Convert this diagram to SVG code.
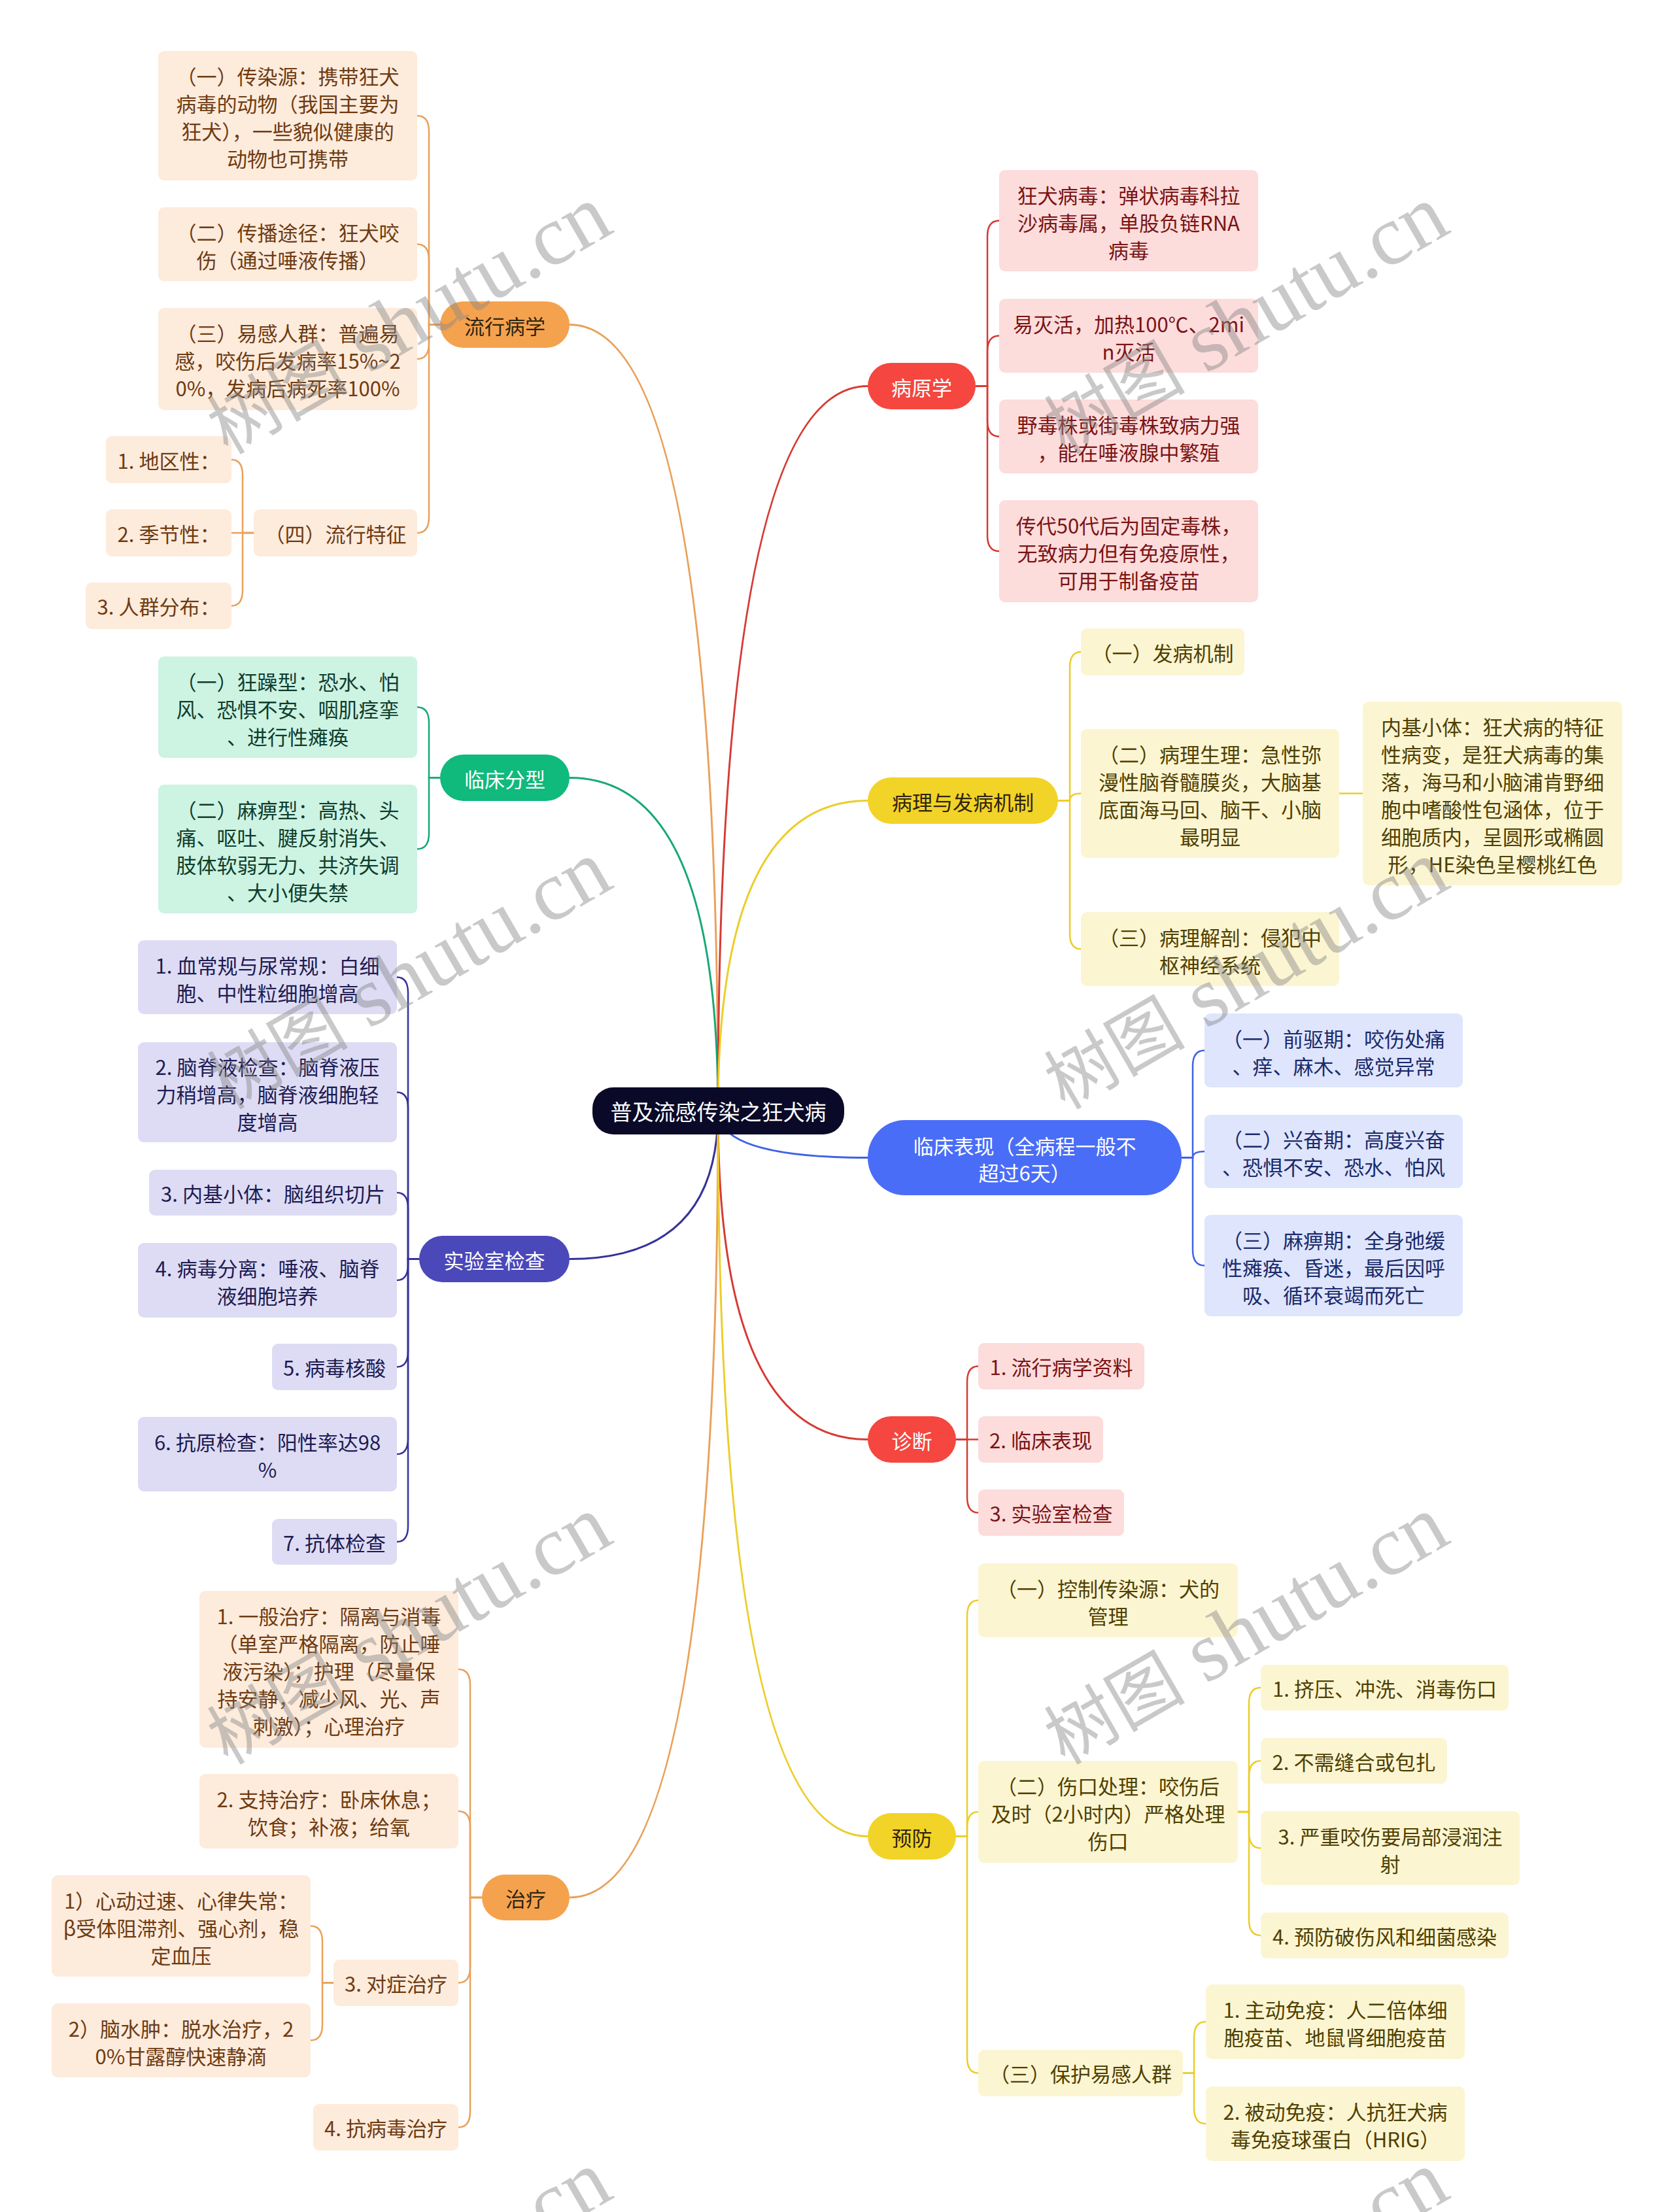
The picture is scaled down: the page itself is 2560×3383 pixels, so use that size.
<svg xmlns="http://www.w3.org/2000/svg" width="2560" height="3383" viewBox="0 0 2560 3383">
<style>
text{font-family:"Noto Sans CJK SC","Liberation Sans",sans-serif;font-size:31px;text-anchor:middle;dominant-baseline:central}
tspan{dominant-baseline:central}
.rt{font-size:33px;fill:#fff}
.w{fill:#fff}
.d{fill:#2e2410}
.ob{fill:#fdebdc}.ot{fill:#6e3b12}
.gb{fill:#cdf3e3}.gt{fill:#0f3d2c}
.pb{fill:#dddcf4}.pt{fill:#1e1b52}
.rb{fill:#fddcdc}.rtx{fill:#7a1414}
.yb{fill:#fcf5d2}.yt{fill:#4f4000}
.bb{fill:#dee5fc}.bt{fill:#1b2a6b}
.op{fill:#f5a24e}.gp{fill:#10b97c}.pp{fill:#4b48b9}.rp{fill:#f5463f}.yp{fill:#f2d327}.bp{fill:#4a6df7}
#connectors path{fill:none;stroke-width:2.5}
#connectors .m{stroke-width:3}
.ol{stroke:#e9a15a}.gl{stroke:#16a877}.pl{stroke:#353399}.rl{stroke:#d63a34}.yl{stroke:#eccd2a}.bl{stroke:#3f62e6}
.wm{font-family:"Liberation Serif","Noto Sans CJK SC",serif;fill:#888;opacity:0.45;dominant-baseline:alphabetic}
.wm tspan{dominant-baseline:alphabetic}
</style>
<rect width="2560" height="3383" fill="#fff"/>
<g id="connectors">
<path class="m ol" d="M1098 1699 Q1098 496.5 871 496.5"/>
<path class="m gl" d="M1098 1699 Q1098 1189.5 871 1189.5"/>
<path class="m pl" d="M1098 1699 Q1098 1925.5 871 1925.5"/>
<path class="m ol" d="M1098 1699 Q1098 2902 871 2902"/>
<path class="m rl" d="M1098 1699 Q1098 590.5 1327 590.5"/>
<path class="m yl" d="M1098 1699 Q1098 1224.5 1327 1224.5"/>
<path class="m bl" d="M1098 1699 Q1098 1770.5 1327 1770.5"/>
<path class="m rl" d="M1098 1699 Q1098 2201.5 1327 2201.5"/>
<path class="m yl" d="M1098 1699 Q1098 2808.5 1327 2808.5"/>
<path class="ol" d="M673 496.5 H656 V201 Q656 177 638 177"/>
<path class="ol" d="M673 496.5 H656 V397.5 Q656 373.5 638 373.5"/>
<path class="ol" d="M673 496.5 H656 V525 Q656 549 638 549"/>
<path class="ol" d="M673 496.5 H656 V791 Q656 815 638 815"/>
<path class="ol" d="M388 815 H371 V727 Q371 703 354 703"/>
<path class="ol" d="M388 815 H354"/>
<path class="ol" d="M388 815 H371 V902.5 Q371 926.5 354 926.5"/>
<path class="gl" d="M673 1189.5 H656 V1105.5 Q656 1081.5 638 1081.5"/>
<path class="gl" d="M673 1189.5 H656 V1274.5 Q656 1298.5 638 1298.5"/>
<path class="pl" d="M641 1925.5 H624 V1518.5 Q624 1494.5 607 1494.5"/>
<path class="pl" d="M641 1925.5 H624 V1694.5 Q624 1670.5 607 1670.5"/>
<path class="pl" d="M641 1925.5 H624 V1848 Q624 1824 607 1824"/>
<path class="pl" d="M641 1925.5 H624 V1934 Q624 1958 607 1958"/>
<path class="pl" d="M641 1925.5 H624 V2066.5 Q624 2090.5 607 2090.5"/>
<path class="pl" d="M641 1925.5 H624 V2200 Q624 2224 607 2224"/>
<path class="pl" d="M641 1925.5 H624 V2334 Q624 2358 607 2358"/>
<path class="ol" d="M737 2902 H719 V2577 Q719 2553 701 2553"/>
<path class="ol" d="M737 2902 H719 V2794 Q719 2770 701 2770"/>
<path class="ol" d="M737 2902 H719 V3008.5 Q719 3032.5 701 3032.5"/>
<path class="ol" d="M737 2902 H719 V3229.5 Q719 3253.5 701 3253.5"/>
<path class="ol" d="M510 3032.5 H493 V2969.5 Q493 2945.5 475 2945.5"/>
<path class="ol" d="M510 3032.5 H493 V3096.5 Q493 3120.5 475 3120.5"/>
<path class="rl" d="M1492 590.5 H1510 V361.5 Q1510 337.5 1528 337.5"/>
<path class="rl" d="M1492 590.5 H1510 V537.5 Q1510 513.5 1528 513.5"/>
<path class="rl" d="M1492 590.5 H1510 V643.5 Q1510 667.5 1528 667.5"/>
<path class="rl" d="M1492 590.5 H1510 V819 Q1510 843 1528 843"/>
<path class="yl" d="M1618 1224.5 H1636 V1021 Q1636 997 1653 997"/>
<path class="yl" d="M1618 1224.5 H1636 Q1636 1213.5 1653 1213.5"/>
<path class="yl" d="M1618 1224.5 H1636 V1427.5 Q1636 1451.5 1653 1451.5"/>
<path class="yl" d="M2048 1213.5 H2084"/>
<path class="bl" d="M1807 1770.5 H1824 V1630.5 Q1824 1606.5 1842 1606.5"/>
<path class="bl" d="M1807 1770.5 H1824 Q1824 1761 1842 1761"/>
<path class="bl" d="M1807 1770.5 H1824 V1911.5 Q1824 1935.5 1842 1935.5"/>
<path class="rl" d="M1462 2201.5 H1479 V2113.5 Q1479 2089.5 1496 2089.5"/>
<path class="rl" d="M1462 2201.5 H1496"/>
<path class="rl" d="M1462 2201.5 H1479 V2289.5 Q1479 2313.5 1496 2313.5"/>
<path class="yl" d="M1462 2808.5 H1479 V2471.5 Q1479 2447.5 1496 2447.5"/>
<path class="yl" d="M1462 2808.5 H1479 V2795 Q1479 2771 1496 2771"/>
<path class="yl" d="M1462 2808.5 H1479 V3146.5 Q1479 3170.5 1496 3170.5"/>
<path class="yl" d="M1893 2771 H1910 V2605 Q1910 2581 1928 2581"/>
<path class="yl" d="M1893 2771 H1910 V2717 Q1910 2693 1928 2693"/>
<path class="yl" d="M1893 2771 H1910 V2802.5 Q1910 2826.5 1928 2826.5"/>
<path class="yl" d="M1893 2771 H1910 V2936 Q1910 2960 1928 2960"/>
<path class="yl" d="M1809 3170.5 H1826 V3116 Q1826 3092 1844 3092"/>
<path class="yl" d="M1809 3170.5 H1826 V3224 Q1826 3248 1844 3248"/>
</g>
<g id="root"><rect x="906" y="1663" width="385" height="72" rx="32" fill="#0a0a28"/><text class="rt" x="1098.5" y="1699">普及流感传染之狂犬病</text></g>
<g id="n-liuxing"><rect class="op" x="673" y="461" width="198" height="71" rx="35.5"/><text class="d" x="772" y="497">流行病学</text></g>
<g id="n-fenxing"><rect class="gp" x="673" y="1154" width="198" height="71" rx="35.5"/><text class="w" x="772" y="1190">临床分型</text></g>
<g id="n-shiyan"><rect class="pp" x="641" y="1890" width="230" height="71" rx="35.5"/><text class="w" x="756" y="1926">实验室检查</text></g>
<g id="n-zhiliao"><rect class="op" x="737" y="2867" width="134" height="70" rx="35"/><text class="d" x="804" y="2902">治疗</text></g>
<g id="n-bingyuan"><rect class="rp" x="1327" y="555" width="165" height="71" rx="35.5"/><text class="w" x="1409.5" y="591">病原学</text></g>
<g id="n-bingli"><rect class="yp" x="1327" y="1189" width="291" height="71" rx="35.5"/><text class="d" x="1472.5" y="1225">病理与发病机制</text></g>
<g id="n-biaoxian"><rect class="bp" x="1327" y="1713" width="480" height="115" rx="57"/><text class="w"><tspan x="1567" y="1750.5">临床表现（全病程一般不</tspan><tspan x="1567" y="1791.5">超过6天）</tspan></text></g>
<g id="n-zhenduan"><rect class="rp" x="1327" y="2166" width="135" height="71" rx="35.5"/><text class="w" x="1394.5" y="2202">诊断</text></g>
<g id="n-yufang"><rect class="yp" x="1327" y="2773" width="135" height="71" rx="35.5"/><text class="d" x="1394.5" y="2809">预防</text></g>

<g id="a1"><rect class="ob" x="242" y="78" width="396" height="198" rx="9"/><text class="ot"><tspan x="440" y="115">（一）传染源：携带狂犬</tspan><tspan x="440" y="157">病毒的动物（我国主要为</tspan><tspan x="440" y="199">狂犬），一些貌似健康的</tspan><tspan x="440" y="241">动物也可携带</tspan></text></g>
<g id="a2"><rect class="ob" x="242" y="317" width="396" height="113" rx="9"/><text class="ot"><tspan x="440" y="353.5">（二）传播途径：狂犬咬</tspan><tspan x="440" y="395.5">伤（通过唾液传播）</tspan></text></g>
<g id="a3"><rect class="ob" x="242" y="471" width="396" height="156" rx="9"/><text class="ot"><tspan x="440" y="508">（三）易感人群：普遍易</tspan><tspan x="440" y="550">感，咬伤后发病率15%~2</tspan><tspan x="440" y="592">0%，发病后病死率100%</tspan></text></g>
<g id="a4"><rect class="ob" x="388" y="779" width="250" height="72" rx="9"/><text class="ot" x="513" y="815">（四）流行特征</text></g>
<g id="a4a"><rect class="ob" x="162" y="667" width="192" height="72" rx="9"/><text class="ot" x="258" y="703">1. 地区性：</text></g>
<g id="a4b"><rect class="ob" x="162" y="779" width="192" height="72" rx="9"/><text class="ot" x="258" y="815">2. 季节性：</text></g>
<g id="a4c"><rect class="ob" x="131" y="891" width="223" height="71" rx="9"/><text class="ot" x="242.5" y="926.5">3. 人群分布：</text></g>

<g id="b1"><rect class="gb" x="242" y="1004" width="396" height="155" rx="9"/><text class="gt"><tspan x="440" y="1040.5">（一）狂躁型：恐水、怕</tspan><tspan x="440" y="1082.5">风、恐惧不安、咽肌痉挛</tspan><tspan x="440" y="1124.5">、进行性瘫痪</tspan></text></g>
<g id="b2"><rect class="gb" x="242" y="1200" width="396" height="197" rx="9"/><text class="gt"><tspan x="440" y="1236.5">（二）麻痹型：高热、头</tspan><tspan x="440" y="1278.5">痛、呕吐、腱反射消失、</tspan><tspan x="440" y="1320.5">肢体软弱无力、共济失调</tspan><tspan x="440" y="1362.5">、大小便失禁</tspan></text></g>

<g id="c1"><rect class="pb" x="211" y="1438" width="396" height="113" rx="9"/><text class="pt"><tspan x="409" y="1474.5">1. 血常规与尿常规：白细</tspan><tspan x="409" y="1516.5">胞、中性粒细胞增高</tspan></text></g>
<g id="c2"><rect class="pb" x="211" y="1594" width="396" height="153" rx="9"/><text class="pt"><tspan x="409" y="1629.5">2. 脑脊液检查：脑脊液压</tspan><tspan x="409" y="1671.5">力稍增高，脑脊液细胞轻</tspan><tspan x="409" y="1713.5">度增高</tspan></text></g>
<g id="c3"><rect class="pb" x="228" y="1789" width="379" height="70" rx="9"/><text class="pt" x="417.5" y="1824">3. 内基小体：脑组织切片</text></g>
<g id="c4"><rect class="pb" x="211" y="1901" width="396" height="114" rx="9"/><text class="pt"><tspan x="409" y="1938">4. 病毒分离：唾液、脑脊</tspan><tspan x="409" y="1980">液细胞培养</tspan></text></g>
<g id="c5"><rect class="pb" x="416" y="2055" width="191" height="71" rx="9"/><text class="pt" x="511.5" y="2090.5">5. 病毒核酸</text></g>
<g id="c6"><rect class="pb" x="211" y="2167" width="396" height="114" rx="9"/><text class="pt"><tspan x="409" y="2204">6. 抗原检查：阳性率达98</tspan><tspan x="409" y="2246">%</tspan></text></g>
<g id="c7"><rect class="pb" x="416" y="2323" width="191" height="70" rx="9"/><text class="pt" x="511.5" y="2358">7. 抗体检查</text></g>

<g id="d1"><rect class="ob" x="305" y="2433" width="396" height="240" rx="9"/><text class="ot"><tspan x="503" y="2470">1. 一般治疗：隔离与消毒</tspan><tspan x="503" y="2512">（单室严格隔离，防止唾</tspan><tspan x="503" y="2554">液污染）；护理（尽量保</tspan><tspan x="503" y="2596">持安静，减少风、光、声</tspan><tspan x="503" y="2638">刺激）；心理治疗</tspan></text></g>
<g id="d2"><rect class="ob" x="305" y="2713" width="396" height="114" rx="9"/><text class="ot"><tspan x="503" y="2750">2. 支持治疗：卧床休息；</tspan><tspan x="503" y="2792">饮食；补液；给氧</tspan></text></g>
<g id="d3"><rect class="ob" x="510" y="2997" width="191" height="71" rx="9"/><text class="ot" x="605.5" y="3032.5">3. 对症治疗</text></g>
<g id="d3a"><rect class="ob" x="79" y="2868" width="396" height="155" rx="9"/><text class="ot"><tspan x="277" y="2904.5">1）心动过速、心律失常：</tspan><tspan x="277" y="2946.5">β受体阻滞剂、强心剂，稳</tspan><tspan x="277" y="2988.5">定血压</tspan></text></g>
<g id="d3b"><rect class="ob" x="79" y="3064" width="396" height="113" rx="9"/><text class="ot"><tspan x="277" y="3100.5">2）脑水肿：脱水治疗，2</tspan><tspan x="277" y="3142.5">0%甘露醇快速静滴</tspan></text></g>
<g id="d4"><rect class="ob" x="479" y="3218" width="222" height="71" rx="9"/><text class="ot" x="590" y="3253.5">4. 抗病毒治疗</text></g>

<g id="e1"><rect class="rb" x="1528" y="260" width="396" height="155" rx="9"/><text class="rtx"><tspan x="1726" y="296.5">狂犬病毒：弹状病毒科拉</tspan><tspan x="1726" y="338.5">沙病毒属，单股负链RNA</tspan><tspan x="1726" y="380.5">病毒</tspan></text></g>
<g id="e2"><rect class="rb" x="1528" y="457" width="396" height="113" rx="9"/><text class="rtx"><tspan x="1726" y="493.5">易灭活，加热100℃、2mi</tspan><tspan x="1726" y="535.5">n灭活</tspan></text></g>
<g id="e3"><rect class="rb" x="1528" y="611" width="396" height="113" rx="9"/><text class="rtx"><tspan x="1726" y="647.5">野毒株或街毒株致病力强</tspan><tspan x="1726" y="689.5">，能在唾液腺中繁殖</tspan></text></g>
<g id="e4"><rect class="rb" x="1528" y="765" width="396" height="156" rx="9"/><text class="rtx"><tspan x="1726" y="802">传代50代后为固定毒株，</tspan><tspan x="1726" y="844">无致病力但有免疫原性，</tspan><tspan x="1726" y="886">可用于制备疫苗</tspan></text></g>

<g id="f1"><rect class="yb" x="1653" y="961" width="250" height="72" rx="9"/><text class="yt" x="1778" y="997">（一）发病机制</text></g>
<g id="f2"><rect class="yb" x="1653" y="1115" width="395" height="197" rx="9"/><text class="yt"><tspan x="1850.5" y="1151.5">（二）病理生理：急性弥</tspan><tspan x="1850.5" y="1193.5">漫性脑脊髓膜炎，大脑基</tspan><tspan x="1850.5" y="1235.5">底面海马回、脑干、小脑</tspan><tspan x="1850.5" y="1277.5">最明显</tspan></text></g>
<g id="f2a"><rect class="yb" x="2084" y="1073" width="397" height="281" rx="9"/><text class="yt"><tspan x="2282.5" y="1109.5">内基小体：狂犬病的特征</tspan><tspan x="2282.5" y="1151.5">性病变，是狂犬病毒的集</tspan><tspan x="2282.5" y="1193.5">落，海马和小脑浦肯野细</tspan><tspan x="2282.5" y="1235.5">胞中嗜酸性包涵体，位于</tspan><tspan x="2282.5" y="1277.5">细胞质内，呈圆形或椭圆</tspan><tspan x="2282.5" y="1319.5">形，HE染色呈樱桃红色</tspan></text></g>
<g id="f3"><rect class="yb" x="1653" y="1395" width="395" height="113" rx="9"/><text class="yt"><tspan x="1850.5" y="1431.5">（三）病理解剖：侵犯中</tspan><tspan x="1850.5" y="1473.5">枢神经系统</tspan></text></g>

<g id="g1"><rect class="bb" x="1842" y="1550" width="395" height="113" rx="9"/><text class="bt"><tspan x="2039.5" y="1586.5">（一）前驱期：咬伤处痛</tspan><tspan x="2039.5" y="1628.5">、痒、麻木、感觉异常</tspan></text></g>
<g id="g2"><rect class="bb" x="1842" y="1705" width="395" height="112" rx="9"/><text class="bt"><tspan x="2039.5" y="1741">（二）兴奋期：高度兴奋</tspan><tspan x="2039.5" y="1783">、恐惧不安、恐水、怕风</tspan></text></g>
<g id="g3"><rect class="bb" x="1842" y="1858" width="395" height="155" rx="9"/><text class="bt"><tspan x="2039.5" y="1894.5">（三）麻痹期：全身弛缓</tspan><tspan x="2039.5" y="1936.5">性瘫痪、昏迷，最后因呼</tspan><tspan x="2039.5" y="1978.5">吸、循环衰竭而死亡</tspan></text></g>

<g id="h1"><rect class="rb" x="1496" y="2054" width="254" height="71" rx="9"/><text class="rtx" x="1623" y="2089.5">1. 流行病学资料</text></g>
<g id="h2"><rect class="rb" x="1496" y="2166" width="191" height="71" rx="9"/><text class="rtx" x="1591.5" y="2201.5">2. 临床表现</text></g>
<g id="h3"><rect class="rb" x="1496" y="2278" width="223" height="71" rx="9"/><text class="rtx" x="1607.5" y="2313.5">3. 实验室检查</text></g>

<g id="i1"><rect class="yb" x="1496" y="2391" width="397" height="113" rx="9"/><text class="yt"><tspan x="1694.5" y="2427.5">（一）控制传染源：犬的</tspan><tspan x="1694.5" y="2469.5">管理</tspan></text></g>
<g id="i2"><rect class="yb" x="1496" y="2693" width="397" height="156" rx="9"/><text class="yt"><tspan x="1694.5" y="2730">（二）伤口处理：咬伤后</tspan><tspan x="1694.5" y="2772">及时（2小时内）严格处理</tspan><tspan x="1694.5" y="2814">伤口</tspan></text></g>
<g id="i2a"><rect class="yb" x="1928" y="2546" width="379" height="70" rx="9"/><text class="yt" x="2117.5" y="2581">1. 挤压、冲洗、消毒伤口</text></g>
<g id="i2b"><rect class="yb" x="1928" y="2658" width="285" height="70" rx="9"/><text class="yt" x="2070.5" y="2693">2. 不需缝合或包扎</text></g>
<g id="i2c"><rect class="yb" x="1928" y="2770" width="396" height="113" rx="9"/><text class="yt"><tspan x="2126" y="2806.5">3. 严重咬伤要局部浸润注</tspan><tspan x="2126" y="2848.5">射</tspan></text></g>
<g id="i2d"><rect class="yb" x="1928" y="2925" width="379" height="70" rx="9"/><text class="yt" x="2117.5" y="2960">4. 预防破伤风和细菌感染</text></g>
<g id="i3"><rect class="yb" x="1496" y="3135" width="313" height="71" rx="9"/><text class="yt" x="1652.5" y="3170.5">（三）保护易感人群</text></g>
<g id="i3a"><rect class="yb" x="1844" y="3035" width="396" height="114" rx="9"/><text class="yt"><tspan x="2042" y="3072">1. 主动免疫：人二倍体细</tspan><tspan x="2042" y="3114">胞疫苗、地鼠肾细胞疫苗</tspan></text></g>
<g id="i3b"><rect class="yb" x="1844" y="3191" width="396" height="114" rx="9"/><text class="yt"><tspan x="2042" y="3228">2. 被动免疫：人抗狂犬病</tspan><tspan x="2042" y="3270">毒免疫球蛋白（HRIG）</tspan></text></g>

<g id="watermarks">
<text class="wm" x="645" y="525" transform="rotate(-30 645 525)"><tspan font-size="108">树图</tspan><tspan font-size="130"> shutu.cn</tspan></text>
<text class="wm" x="1925" y="525" transform="rotate(-30 1925 525)"><tspan font-size="108">树图</tspan><tspan font-size="130"> shutu.cn</tspan></text>
<text class="wm" x="645" y="1527" transform="rotate(-30 645 1527)"><tspan font-size="108">树图</tspan><tspan font-size="130"> shutu.cn</tspan></text>
<text class="wm" x="1925" y="1527" transform="rotate(-30 1925 1527)"><tspan font-size="108">树图</tspan><tspan font-size="130"> shutu.cn</tspan></text>
<text class="wm" x="645" y="2529" transform="rotate(-30 645 2529)"><tspan font-size="108">树图</tspan><tspan font-size="130"> shutu.cn</tspan></text>
<text class="wm" x="1925" y="2529" transform="rotate(-30 1925 2529)"><tspan font-size="108">树图</tspan><tspan font-size="130"> shutu.cn</tspan></text>
<text class="wm" x="645" y="3531" transform="rotate(-30 645 3531)"><tspan font-size="108">树图</tspan><tspan font-size="130"> shutu.cn</tspan></text>
<text class="wm" x="1925" y="3531" transform="rotate(-30 1925 3531)"><tspan font-size="108">树图</tspan><tspan font-size="130"> shutu.cn</tspan></text>
</g>
</svg>
